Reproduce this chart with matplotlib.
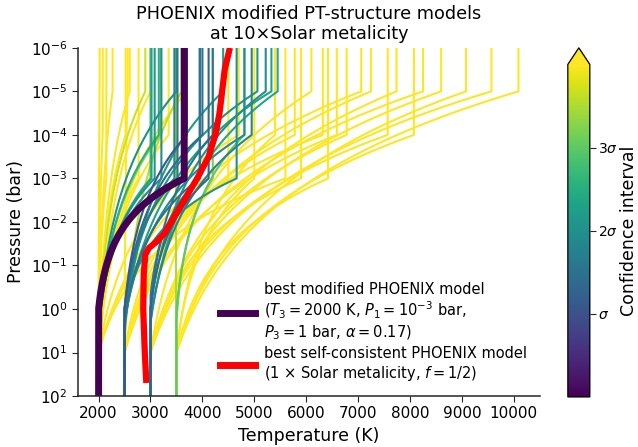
import numpy as np
import matplotlib
matplotlib.use("Agg")
import matplotlib.pyplot as plt
from matplotlib.colors import Normalize
from matplotlib.cm import ScalarMappable
from matplotlib.lines import Line2D

# Modified PHOENIX PT profiles: isotherm T3 below P3, isotherm T1 above P1,
# smooth rise in between. Pressures are log10(bar). sigma > 4 -> "over" colour.
t_deep = [
    # poor fits (yellow), near-isothermal group
    2000, 2000, 2000, 2000, 2000, 2000, 2000, 2500, 2000, 2000, 2000,
    # poor fits (yellow), hot group
    2000, 2500, 3000, 2000, 3500, 2500, 3000, 2000, 2500, 3000, 3000,
    3500, 2500, 3000, 3500, 3000, 3500, 3500, 2500, 3500, 3000, 2000,
    # ~3 sigma (green)
    2000, 2000, 2000, 2500, 3500, 3500, 3500,
    # 1-2.5 sigma (teal / blue)
    2000, 2000, 2000, 2000, 2000, 2500, 2500, 2500, 2500, 2500, 2500, 2500,
    2500, 2500, 2500, 3000, 3000, 3000, 3000, 3000, 3000,
]
logp_deep = [
    1, 1, 1, 1, 1, 1, 1, 1, 1, 1, 1,
    1, 1, 1, 1, 1, 1, 1, 1, 1, 1, 1,
    1, 1, 1, 1, 1, 1, 1, 1, 1, 1, 1,
    0.6, 0.5, 0.5, 0.8, -3.0, 0.0, 0.3,
    0.5, 0.3, 0.5, 0.3, 0.3, 0.3, 0.0, 0.3, 0.0, 0.0, 0.3, 0.0,
    0.3, 0.0, 0.5, 0.0, 0.0, 0.3, 0.0, 0.3, -0.3,
]
logp_top = [
    -5, -4, -3, -5, -4, -5, -3, -5, -5, -4, -5,
    -3, -4, -3, -4, -3, -4, -4, -5, -5, -4, -5,
    -4, -5, -5, -5, -5, -5, -3, -3, -4, -5, -4,
    -5, -4, -3, -5, -3.5, -4, -3,
    -3, -3, -4, -3, -5, -3, -3, -3, -4, -3, -4, -5,
    -5, -4, -5, -3, -4, -4, -5, -5, -3,
]
t_top = [
    2020, 2080, 2150, 2270, 2520, 2600, 2770, 2560, 3000, 3350, 3700,
    5600, 5780, 5900, 6320, 6420, 6590, 6780, 7060, 7250, 7570, 7740,
    8075, 8250, 8600, 9080, 9570, 10090, 5000, 4500, 5400, 6100, 4700,
    2900, 3200, 3000, 3600, 3500, 4810, 4200,
    3020, 3080, 3160, 3210, 3500, 3460, 3520, 3950, 4000, 4660, 4810, 5060,
    5330, 3700, 4400, 4120, 4200, 4950, 5220, 5450, 3950,
]
sigma = [
    5, 5, 5, 5, 5, 5, 5, 5, 5, 5, 5,
    5, 5, 5, 5, 5, 5, 5, 5, 5, 5, 5,
    5, 5, 5, 5, 5, 5, 5, 5, 5, 5, 5,
    3.7, 3.3, 2.9, 3.6, 3.5, 3.0, 3.2,
    2.3, 2.1, 2.5, 1.9, 2.0, 1.8, 1.6, 1.5, 1.4, 2.0, 1.9, 2.1,
    2.3, 1.1, 2.2, 1.3, 1.5, 1.8, 2.0, 2.4, 1.7,
]

# best modified model
best_t3, best_logp3, best_logp1, best_t1 = 2000, 0.0, -3.0, 3650

# best self-consistent PHOENIX profile (1x solar, f=1/2)
sc_logp = [1.7, 1.0, 0.0, -0.8, -1.25, -1.4, -1.55, -1.75, -2.1, -2.5,
           -3.0, -3.5, -4.0, -4.5, -5.0, -5.5, -6.0]
sc_temp = [2920, 2890, 2860, 2870, 2900, 2970, 3120, 3280, 3450, 3650,
           3900, 4120, 4250, 4330, 4380, 4430, 4530]

LOGP = np.linspace(2, -6, 801)


def profile(t3, lp3, lp1, t1, bend=1.0):
    x = np.clip((lp3 - LOGP) / (lp3 - lp1), 0, 1)
    f = (10 ** (bend * x) - 1) / (10 ** bend - 1)
    return t3 + (t1 - t3) * f


fig = plt.figure(figsize=(6.38, 4.47), dpi=100)
ax = fig.add_axes([0.122, 0.114, 0.724, 0.779])
cax = fig.add_axes([0.890, 0.112, 0.0345, 0.781])

cmap = plt.get_cmap("viridis")
norm = Normalize(0, 4)

order = np.argsort(sigma, kind="stable")[::-1]
for i in order:
    T = profile(t_deep[i], logp_deep[i], logp_top[i], t_top[i])
    ax.plot(T, 10 ** LOGP, color=cmap(norm(sigma[i])), lw=1.5)

T_best = profile(best_t3, best_logp3, best_logp1, best_t1, bend=1.3)
ax.plot(T_best, 10 ** LOGP, color=cmap(0.0), lw=5, solid_capstyle="butt")
ax.plot(sc_temp, 10 ** np.array(sc_logp), color="red", lw=4.5,
        solid_capstyle="butt")

ax.set_yscale("log")
ax.set_ylim(1e2, 1e-6)
ax.set_xlim(1600, 10500)
ax.set_xticks(range(2000, 10001, 1000))
ax.set_yticks([10.0 ** k for k in range(-6, 3)])
ax.yaxis.set_minor_locator(matplotlib.ticker.NullLocator())
for s in ("top", "right"):
    ax.spines[s].set_visible(False)
for s in ("left", "bottom"):
    ax.spines[s].set_color(".15")
    ax.spines[s].set_linewidth(1.1)
ax.tick_params(colors=".15", labelsize=11, length=4, labelcolor="k")
ax.set_xlabel("Temperature (K)", fontsize=12.5)
ax.set_ylabel("Pressure (bar)", fontsize=12.5)
ax.set_title("PHOENIX modified PT-structure models\nat 10×Solar metalicity",
             fontsize=12.7)

handles = [Line2D([], [], color=cmap(0.0), lw=5),
           Line2D([], [], color="red", lw=5)]
labels = ["best modified PHOENIX model\n"
          r"($T_3 = 2000$ K, $P_1 = 10^{-3}$ bar," "\n"
          r"$P_3 = 1$ bar, $\alpha = 0.17$)",
          "best self-consistent PHOENIX model\n"
          r"(1 × Solar metalicity, $f = 1/2$)"]
ax.legend(handles, labels, loc="lower right", frameon=False, fontsize=10.5,
          handlelength=2.4, labelspacing=0.25, handletextpad=0.6)

sm = ScalarMappable(norm=norm, cmap=cmap)
cb = fig.colorbar(sm, cax=cax, extend="max", ticks=[1, 2, 3])
cb.set_ticklabels([r"$\sigma$", r"$2\sigma$", r"$3\sigma$"])
cb.ax.tick_params(labelsize=10, length=4, colors=".15", labelcolor="k",
                  pad=2)
cb.set_label("Confidence interval", fontsize=12.5, labelpad=1)
cb.outline.set_linewidth(0.9)

fig.savefig("out.png", dpi=100)
